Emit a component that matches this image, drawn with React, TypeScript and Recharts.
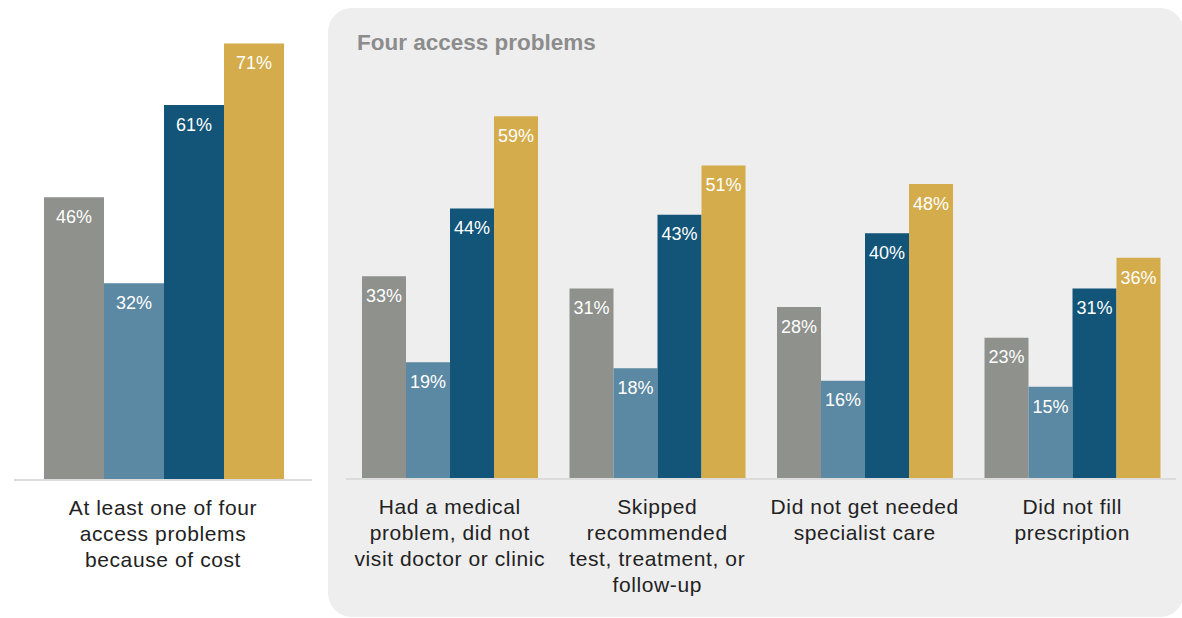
import { BarChart, Bar, XAxis, YAxis, LabelList } from 'recharts'

// series: gray, light blue, dark blue, gold
const seriesKeys = ['s1', 's2', 's3', 's4']
const seriesColors = ['#8e918c', '#5b88a2', '#125578', '#d4ac4b']

const totalCategory = ['At least one of four\naccess problems\nbecause of cost']
const totalValues = [[46], [32], [61], [71]]

const problemCategories = [
  'Had a medical\nproblem, did not\nvisit doctor or clinic',
  'Skipped\nrecommended\ntest, treatment, or\nfollow-up',
  'Did not get needed\nspecialist care',
  'Did not fill\nprescription',
]
const problemValues = [
  [33, 31, 28, 23],
  [19, 18, 16, 15],
  [44, 43, 40, 31],
  [59, 51, 48, 36],
]

const buildRows = (cats: string[], vals: number[][]) =>
  cats.map((name, i) => {
    const row: Record<string, string | number> = { name }
    seriesKeys.forEach((k, s) => (row[k] = vals[s][i]))
    return row
  })

const totalData = buildRows(totalCategory, totalValues)
const problemData = buildRows(problemCategories, problemValues)

const font = '"Liberation Sans", Arial, sans-serif'

function WrappedTick(props: any) {
  const { x, y, payload } = props
  const lines = String(payload.value).split('\n')
  return (
    <text x={x} y={y} textAnchor="middle" fill="#222" fontSize={21} letterSpacing={0.6} fontFamily={font}>
      {lines.map((l, i) => (
        <tspan key={i} x={x} dy={i === 0 ? 27 : 26}>
          {l}
        </tspan>
      ))}
    </text>
  )
}

function Bars() {
  return seriesKeys.map((k, i) => (
    <Bar key={k} dataKey={k} fill={seriesColors[i]} isAnimationActive={false}>
      <LabelList
        dataKey={k}
        position="insideTop"
        offset={13}
        formatter={(v: any) => `${v}%`}
        fill="#fff"
        fontSize={18}
        fontFamily={font}
      />
    </Bar>
  ))
}

export default function App() {
  return (
    <div style={{ position: 'absolute', left: 0, top: 0, width: 1182, height: 618, background: '#fff', overflow: 'hidden' }}>
      <BarChart
        width={326}
        height={618}
        data={totalData}
        margin={{ top: 19, right: 14, bottom: 0, left: 14 }}
        barCategoryGap={30}
        barGap={0}
        style={{ position: 'absolute', left: 0, top: 0 }}
      >
        <YAxis hide domain={[0, 75]} />
        <XAxis
          dataKey="name"
          height={138}
          tickLine={false}
          axisLine={{ stroke: '#dcdcdc', strokeWidth: 2 }}
          tick={<WrappedTick />}
          interval={0}
        />
        {Bars()}
      </BarChart>

      <div
        style={{
          position: 'absolute',
          left: 328,
          top: 8,
          width: 856,
          height: 609,
          background: '#eeeeee',
          borderRadius: 24,
        }}
      />
      <div
        style={{
          position: 'absolute',
          left: 357,
          top: 30,
          fontFamily: font,
          fontWeight: 'bold',
          fontSize: 22.5,
          lineHeight: '26px',
          color: '#8c8c8c',
        }}
      >
        Four access problems
      </div>

      <BarChart
        width={854}
        height={618}
        data={problemData}
        margin={{ top: 18, right: 6, bottom: 0, left: 18 }}
        barCategoryGap={16}
        barGap={0}
        style={{ position: 'absolute', left: 328, top: 0 }}
      >
        <YAxis hide domain={[0, 75]} />
        <XAxis
          dataKey="name"
          height={139}
          tickLine={false}
          axisLine={{ stroke: '#dcdcdc', strokeWidth: 2 }}
          tick={<WrappedTick />}
          interval={0}
        />
        {Bars()}
      </BarChart>
    </div>
  )
}
